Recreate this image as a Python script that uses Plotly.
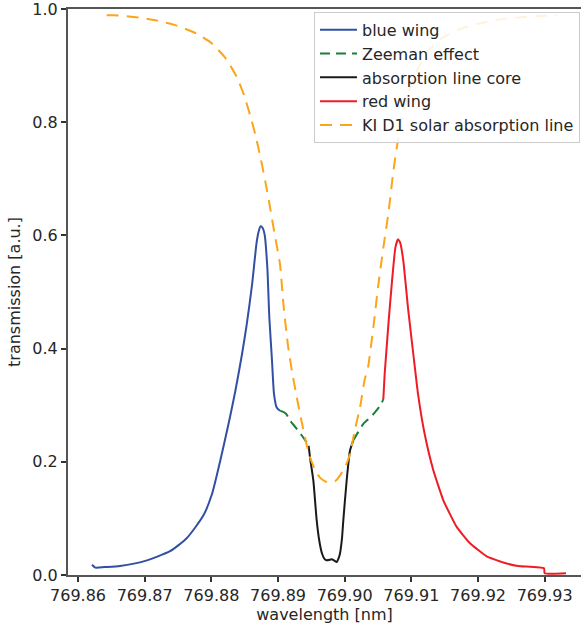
import plotly.graph_objects as go

# ---- data ----
blue_x = [769.8621, 769.8626, 769.8640, 769.8663, 769.8701, 769.8738, 769.8763, 769.8788,
          769.8801, 769.8813, 769.8826, 769.8836, 769.8846, 769.8853, 769.8861, 769.8868,
          769.8871, 769.8874, 769.8877, 769.8880, 769.8884, 769.8887, 769.8891, 769.8894,
          769.8898, 769.8903]
blue_y = [0.018, 0.013, 0.014, 0.016, 0.025, 0.042, 0.065, 0.105,
          0.143, 0.200, 0.268, 0.325, 0.390, 0.442, 0.512, 0.588,
          0.607, 0.616, 0.613, 0.601, 0.543, 0.455, 0.379, 0.320,
          0.296, 0.290]

zeeman_left_x = [769.8903, 769.8906, 769.8912, 769.8918, 769.8927, 769.8936, 769.8943, 769.8946]
zeeman_left_y = [0.290, 0.289, 0.285, 0.273, 0.260, 0.246, 0.234, 0.228]

core_x = [769.8946, 769.8948, 769.8953, 769.8958, 769.8962, 769.8966, 769.8970, 769.8973,
          769.8978, 769.8981, 769.8985, 769.8988, 769.8991, 769.8993, 769.8996, 769.8998,
          769.9003, 769.9008, 769.9013]
core_y = [0.228, 0.208, 0.167, 0.097, 0.060, 0.038, 0.028, 0.026,
          0.027, 0.028, 0.025, 0.023, 0.030, 0.038, 0.065, 0.097,
          0.167, 0.220, 0.238]

zeeman_right_x = [769.9013, 769.9020, 769.9028, 769.9038, 769.9045, 769.9052, 769.9056, 769.9058]
zeeman_right_y = [0.238, 0.252, 0.267, 0.278, 0.287, 0.297, 0.305, 0.311]

red_x = [769.9058, 769.9060, 769.9066, 769.9071, 769.9076, 769.9080, 769.9083, 769.9088,
         769.9095, 769.9103, 769.9110, 769.9120, 769.9133, 769.9148, 769.9168, 769.9188,
         769.9213, 769.9238, 769.9260, 769.9299, 769.9300, 769.9332]
red_y = [0.311, 0.355, 0.449, 0.519, 0.578, 0.593, 0.588, 0.555,
         0.472, 0.390, 0.320, 0.249, 0.185, 0.132, 0.085, 0.056,
         0.033, 0.022, 0.016, 0.012, 0.003, 0.003]

solar_x = [769.8643, 769.8653, 769.8684, 769.8716, 769.8747, 769.8777, 769.8801, 769.8822,
           769.8838, 769.8849, 769.8858, 769.8866, 769.8874, 769.8881, 769.8888, 769.8895,
           769.8903, 769.8908, 769.8915, 769.8921, 769.8928, 769.8936, 769.8942, 769.8948,
           769.8956, 769.8963, 769.8970, 769.8978, 769.8986, 769.8993, 769.8998, 769.9004,
           769.9008, 769.9015, 769.9023, 769.9030, 769.9035, 769.9043, 769.9050, 769.9058,
           769.9066, 769.9073, 769.9080, 769.9088, 769.9098, 769.9110, 769.9125, 769.9145,
           769.9170, 769.9200, 769.9235, 769.9270, 769.9300, 769.9318]
solar_y = [0.989, 0.989, 0.986, 0.980, 0.971, 0.957, 0.939, 0.912,
           0.880, 0.848, 0.813, 0.778, 0.736, 0.695, 0.650, 0.602,
           0.549, 0.480, 0.405, 0.360, 0.315, 0.268, 0.235, 0.208,
           0.185, 0.172, 0.166, 0.163, 0.166, 0.176, 0.186, 0.200,
           0.214, 0.255, 0.296, 0.345, 0.367, 0.437, 0.508, 0.578,
           0.643, 0.713, 0.769, 0.820, 0.860, 0.895, 0.925, 0.948,
           0.963, 0.974, 0.982, 0.986, 0.988, 0.989]

x_ticks = [769.86, 769.87, 769.88, 769.89, 769.90, 769.91, 769.92, 769.93]
y_ticks = [0.0, 0.2, 0.4, 0.6, 0.8, 1.0]

BLUE = "#3150a2"
GREEN = "#1a7f3c"
BLACK = "#1a1a1a"
RED = "#ee1c25"
ORANGE = "#fba51a"

fig = go.Figure()
fig.add_trace(go.Scatter(x=blue_x, y=blue_y, mode="lines", name="blue wing",
                         line=dict(color=BLUE, width=2, shape="spline", smoothing=0.6)))
fig.add_trace(go.Scatter(x=zeeman_left_x, y=zeeman_left_y, mode="lines", name="Zeeman effect",
                         legendgroup="z", line=dict(color=GREEN, width=2, dash="10px,6px",
                                                    shape="spline", smoothing=0.6)))
fig.add_trace(go.Scatter(x=core_x, y=core_y, mode="lines", name="absorption line core",
                         line=dict(color=BLACK, width=2, shape="spline", smoothing=0.6)))
fig.add_trace(go.Scatter(x=red_x, y=red_y, mode="lines", name="red wing",
                         line=dict(color=RED, width=2, shape="spline", smoothing=0.4)))
fig.add_trace(go.Scatter(x=zeeman_right_x, y=zeeman_right_y, mode="lines", name="Zeeman effect",
                         legendgroup="z", showlegend=False,
                         line=dict(color=GREEN, width=2, dash="10px,6px",
                                   shape="spline", smoothing=0.6)))
fig.add_trace(go.Scatter(x=solar_x, y=solar_y, mode="lines", name="KI D1 solar absorption line",
                         line=dict(color=ORANGE, width=2, dash="12px,8px",
                                   shape="spline", smoothing=0.6)))

font = dict(family="DejaVu Sans", size=16, color="#262626")
fig.update_layout(
    width=581, height=628,
    margin=dict(l=68, r=0, t=7, b=53),
    paper_bgcolor="white", plot_bgcolor="white",
    font=font,
    showlegend=True,
    legend=dict(x=0.998, y=0.995, xanchor="right", yanchor="top",
                bgcolor="rgba(255,255,255,0.85)", bordercolor="#cccccc", borderwidth=1,
                font=dict(family="DejaVu Sans", size=16, color="#262626"),
                itemwidth=37, tracegroupgap=0),
)
fig.update_xaxes(
    range=[769.8585, 769.93545], tickvals=x_ticks, tickformat=".2f",
    showgrid=False, zeroline=False,
    showline=True, linecolor="#555555", linewidth=2, mirror=True,
    ticks="outside", ticklen=5, tickwidth=1.5, tickcolor="#333333",
    title=dict(text="wavelength [nm]", font=font, standoff=3),
    tickfont=font, ticklabeloverflow="allow",
)
fig.update_yaxes(
    range=[0, 1.0], tickvals=y_ticks, tickformat=".1f",
    showgrid=False, zeroline=False,
    showline=True, linecolor="#555555", linewidth=2, mirror=False,
    ticks="outside", ticklen=5, tickwidth=1.5, tickcolor="#333333",
    title=dict(text="transmission [a.u.]", font=font, standoff=8),
    tickfont=font, ticklabeloverflow="allow",
)

fig.write_html("out.html", config={"displayModeBar": False},
               post_script="document.body.style.margin='0px';document.body.style.overflow='hidden';")
